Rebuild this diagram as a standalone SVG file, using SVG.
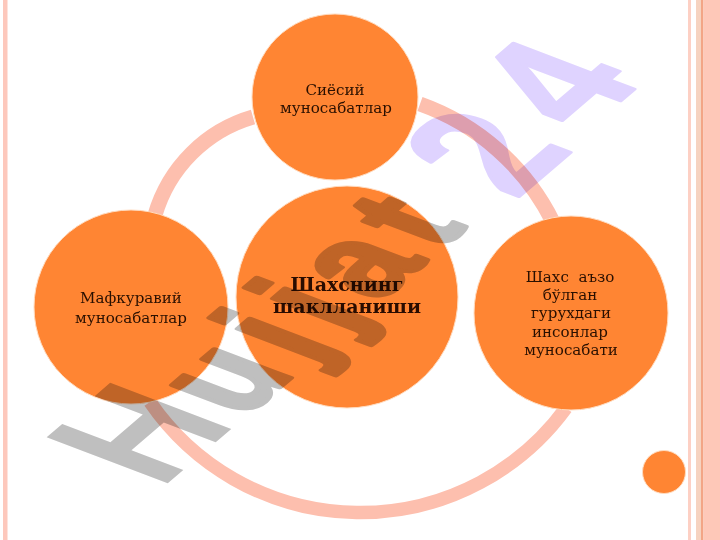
<svg xmlns="http://www.w3.org/2000/svg" width="720" height="540" viewBox="0 0 720 540">
<style>
.node{fill:#ff8533;stroke:#ffdcc0;stroke-width:1}
.arc{fill:none;stroke:#fdbfae;stroke-width:15}
.lbl{font-family:"DejaVu Serif",serif;font-size:15.1px;fill:#2a1000;text-anchor:middle;white-space:pre}
.title{font-family:"DejaVu Serif",serif;font-size:19px;font-weight:bold;fill:#2a0c00;text-anchor:middle}
.wm{font-family:"Liberation Sans",Arial,sans-serif;font-weight:bold;font-size:100px;mix-blend-mode:multiply;stroke-linejoin:round}
</style>
<rect width="720" height="540" fill="#fff"/>
<g id="frame">
<rect x="3" y="0" width="4.5" height="540" fill="#fdc8bc"/>
<rect x="688" y="0" width="3" height="540" fill="#fdd0c4"/>
<rect x="696" y="0" width="5" height="540" fill="#f6d3c0"/>
<rect x="701" y="0" width="2.5" height="540" fill="#f3a585"/>
<rect x="703.5" y="0" width="16.5" height="540" fill="#fec8b8"/>
</g>
<g id="connectors">
<path class="arc" d="M420 104A237 237 0 0 1 553 222"/>
<path class="arc" style="stroke-width:13.5" d="M566 408A255 255 0 0 1 150 402"/>
<path class="arc" d="M155 215A144 144 0 0 1 253 117"/>
</g>
<g id="node-top"><circle class="node" cx="335" cy="97" r="83"/>
<text class="lbl" x="335" y="94.5">Сиёсий</text><text class="lbl" x="336" y="112.5">муносабатлар</text></g>
<g id="node-left"><circle class="node" cx="131" cy="307" r="97"/>
<text class="lbl" x="131" y="303">Мафкуравий</text><text class="lbl" x="131" y="323">муносабатлар</text></g>
<g id="node-right"><circle class="node" cx="571" cy="313" r="97"/>
<text class="lbl" x="570" y="282">Шахс  аъзо</text><text class="lbl" x="570" y="300">бўлган</text><text class="lbl" x="571" y="318">гурухдаги</text><text class="lbl" x="570" y="337">инсонлар</text><text class="lbl" x="571" y="355">муносабати</text></g>
<g id="node-center"><circle class="node" cx="347" cy="297" r="111"/>
<text class="title" x="347" y="291">Шахснинг</text><text class="title" x="347" y="313">шаклланиши</text></g>
<g id="node-dot"><circle class="node" cx="664" cy="472" r="21.5"/></g>
<g id="watermark">
<text class="wm" fill="#bfbfbf" transform="matrix(1.08 -.925 1.76 .67 160.5 489.4)">H<tspan dx="4" font-size="82" letter-spacing="10" stroke="#bfbfbf" stroke-width="3">ujjat</tspan></text>
<text class="wm" fill="#dfd3ff" stroke="#dfd3ff" stroke-width="2" transform="matrix(1.08 -.925 1.76 .67 515 200)">2<tspan dx="15.6" dy="-3.9">4</tspan></text>
</g>
</svg>
